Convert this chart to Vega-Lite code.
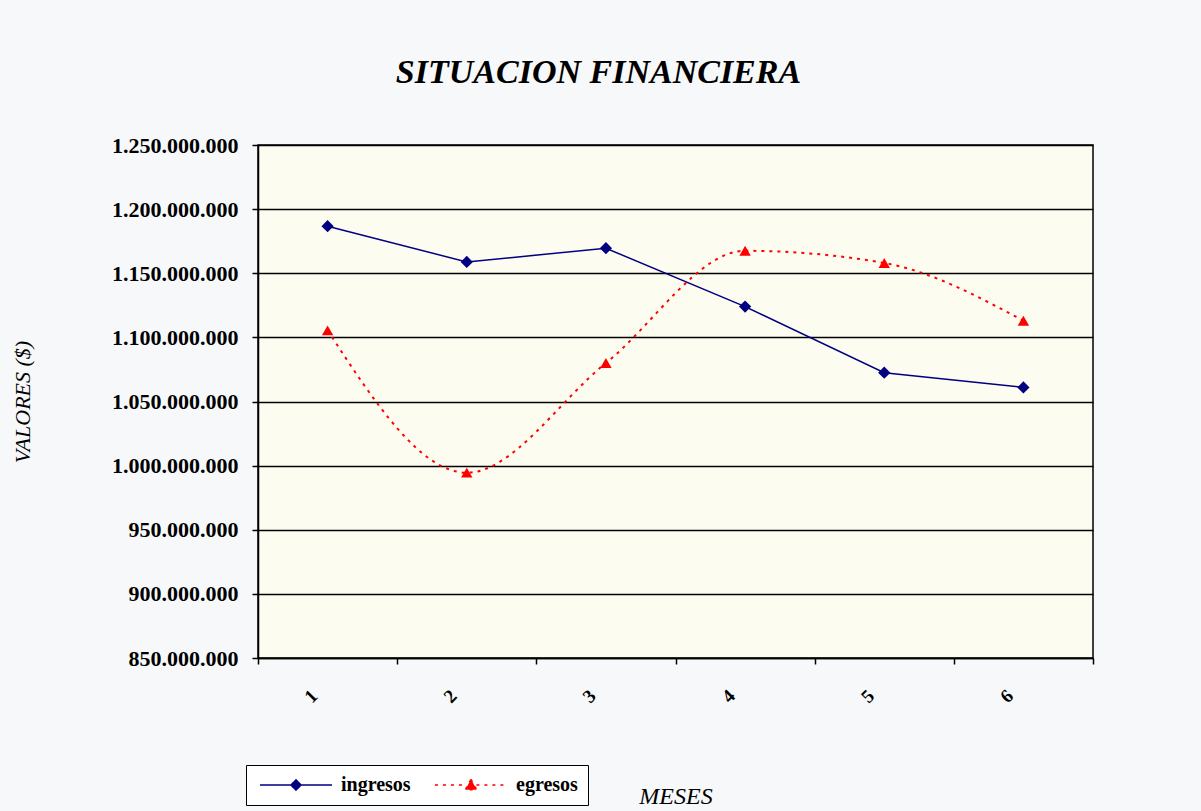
{
  "$schema": "https://vega.github.io/schema/vega-lite/v6.json",
  "width": 835,
  "height": 513,
  "autosize": "none",
  "padding": {"left": 258, "top": 145, "right": 108, "bottom": 153},
  "background": "#f7f8f9",
  "config": {
    "locale": {"number": {"decimal": ",", "thousands": ".", "grouping": [3], "currency": ["$", ""]}},
    "view": {"stroke": "black", "strokeWidth": 1.5, "fill": "#fdfcf1"},
    "font": "Liberation Serif"
  },
  "title": {
    "text": "SITUACION FINANCIERA",
    "font": "Liberation Serif",
    "fontSize": 34,
    "fontWeight": "bold",
    "fontStyle": "italic",
    "color": "black",
    "anchor": "middle",
    "frame": "group",
    "dx": -77,
    "offset": 44
  },
  "data": {
    "values": [
      {"mes": "1", "serie": "ingresos", "valor": 1186700000},
      {"mes": "2", "serie": "ingresos", "valor": 1158800000},
      {"mes": "3", "serie": "ingresos", "valor": 1169500000},
      {"mes": "4", "serie": "ingresos", "valor": 1124000000},
      {"mes": "5", "serie": "ingresos", "valor": 1072500000},
      {"mes": "6", "serie": "ingresos", "valor": 1061000000},
      {"mes": "1", "serie": "egresos", "valor": 1105500000},
      {"mes": "2", "serie": "egresos", "valor": 994500000},
      {"mes": "3", "serie": "egresos", "valor": 1080000000},
      {"mes": "4", "serie": "egresos", "valor": 1167500000},
      {"mes": "5", "serie": "egresos", "valor": 1158000000},
      {"mes": "6", "serie": "egresos", "valor": 1113000000}
    ]
  },
  "encoding": {
    "x": {
      "field": "mes",
      "type": "ordinal",
      "bandPosition": 0.5,
      "scale": {"type": "band", "paddingInner": 0, "paddingOuter": 0},
      "axis": {
        "title": "MESES",
        "titleFont": "Liberation Serif",
        "titleFontSize": 24,
        "titleFontStyle": "italic",
        "titleFontWeight": "normal",
        "titleColor": "black",
        "titleBaseline": "alphabetic",
        "titleY": 145,
        "labelAngle": -45,
        "labelAlign": "center",
        "labelBaseline": "middle",
        "labelPadding": 32,
        "labelOffset": -17,
        "labelFont": "Liberation Serif",
        "labelFontSize": 19,
        "labelFontWeight": "bold",
        "labelColor": "black",
        "tickBand": "extent",
        "tickSize": 6,
        "tickColor": "black",
        "tickWidth": 1.5,
        "domainColor": "black",
        "domainWidth": 1.5,
        "grid": false
      }
    },
    "y": {
      "field": "valor",
      "type": "quantitative",
      "scale": {"domain": [850000000, 1250000000], "nice": false, "zero": false},
      "axis": {
        "title": "VALORES ($)",
        "titleFont": "Liberation Serif",
        "titleFontSize": 22,
        "titleFontStyle": "italic",
        "titleFontWeight": "normal",
        "titleColor": "black",
        "titlePadding": 77,
        "values": [850000000, 900000000, 950000000, 1000000000, 1050000000, 1100000000, 1150000000, 1200000000, 1250000000],
        "format": ",.0f",
        "labelFont": "Liberation Serif",
        "labelFontSize": 22,
        "labelFontWeight": "bold",
        "labelColor": "black",
        "labelPadding": 14,
        "tickSize": 6,
        "tickColor": "black",
        "tickWidth": 1.5,
        "domainColor": "black",
        "domainWidth": 1.5,
        "grid": true,
        "gridColor": "black",
        "gridWidth": 1.5,
        "gridOpacity": 1
      }
    }
  },
  "layer": [
    {
      "transform": [{"filter": "datum.serie == 'ingresos'"}],
      "mark": {"type": "line", "color": "#000080", "strokeWidth": 1.5},
      "encoding": {}
    },
    {
      "transform": [{"filter": "datum.serie == 'egresos'"}],
      "mark": {"type": "line", "color": "#ff0000", "strokeWidth": 2, "strokeDash": [3, 5], "interpolate": "monotone"},
      "encoding": {}
    },
    {
      "transform": [{"filter": "datum.serie == 'ingresos'"}],
      "mark": {"type": "point", "shape": "diamond", "filled": true, "color": "#000080", "size": 150, "opacity": 1},
      "encoding": {}
    },
    {
      "transform": [{"filter": "datum.serie == 'egresos'"}],
      "mark": {"type": "point", "shape": "triangle-up", "filled": true, "color": "#ff0000", "size": 130, "opacity": 1},
      "encoding": {}
    },
    {
      "transform": [{"filter": "false"}],
      "mark": {"type": "point", "filled": true, "strokeWidth": 1.5, "opacity": 1},
      "encoding": {
        "color": {
          "field": "serie",
          "type": "nominal",
          "scale": {"domain": ["ingresos", "egresos"], "range": ["#000080", "#ff0000"]},
          "legend": {
            "title": null,
            "orient": "none",
            "legendX": -12,
            "legendY": 620,
            "direction": "horizontal",
            "strokeColor": "black",
            "fillColor": "#ffffff",
            "padding": 10,
            "labelFont": "Liberation Serif",
            "labelFontSize": 20,
            "labelFontWeight": "bold",
            "labelColor": "black",
            "labelOffset": 65,
            "columnPadding": 20,
            "symbolSize": 144,
            "symbolStrokeWidth": 1.5,
            "symbolOpacity": 1
          }
        },
        "stroke": {
          "field": "serie",
          "type": "nominal",
          "scale": {"domain": ["ingresos", "egresos"], "range": ["#000080", "#ff0000"]}
        },
        "shape": {
          "field": "serie",
          "type": "nominal",
          "scale": {"domain": ["ingresos", "egresos"], "range": ["M-1,0L4.2,0M5.8,0L11,0M5,-0.85L5.85,0L5,0.85L4.15,0Z", "M-1,0L4.1,0M5.9,0L11,0M5,-0.95L5.95,0.8L4.05,0.8Z"]}
        },
        "strokeDash": {
          "field": "serie",
          "type": "nominal",
          "scale": {"domain": ["ingresos", "egresos"], "range": [[1, 0], [3, 5]]}
        }
      }
    }
  ]
}
